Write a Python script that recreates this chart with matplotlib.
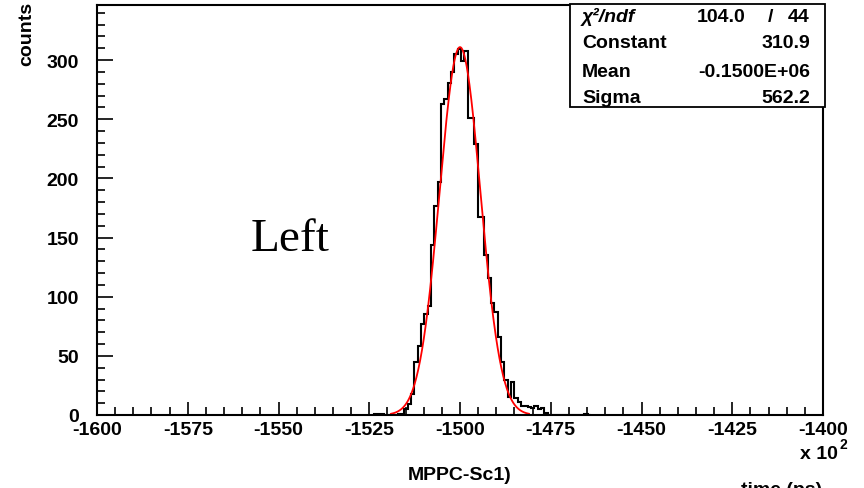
import matplotlib
matplotlib.use("Agg")
import matplotlib.pyplot as plt
from matplotlib.patches import Rectangle
from matplotlib.ticker import MultipleLocator, FuncFormatter
import numpy as np

W, H = 864, 489

# histogram (time in units of 10^2 ps)
bin_start = -1523.6
bin_width = 0.918
counts = [1, 1, 1, 0, 0, 0, 0, 1, 1, 5, 9, 18, 45, 58, 77, 85, 92, 144, 177, 197,
          263, 267, 281, 290, 305, 309, 299, 308, 251, 251, 229, 167, 167, 135, 116,
          95, 87, 66, 45, 30, 15, 28, 14, 11, 8, 8, 7, 6, 8, 5, 6, 2,
          0, 0, 0, 0, 0, 0, 0, 0, 0, 0, 0, 1, 0]

# gaussian fit
fit_const = 310.9
fit_mean = -1500.0   # -0.1500E+06 ps
fit_sigma = 5.622    # 562.2 ps
fit_range = (-1519, -1481)

stat_names = ["χ²/ndf", "Constant", "Mean", "Sigma"]
stat_values = ["44", "310.9", "-0.1500E+06", "562.2"]
chi2 = "104.0"

xticks = [-1600, -1575, -1550, -1525, -1500, -1475, -1450, -1425, -1400]
yticks = [0, 50, 100, 150, 200, 250, 300]

plt.rcParams["font.family"] = ["Liberation Sans", "DejaVu Sans"]
plt.rcParams["axes.unicode_minus"] = False


def fx(x):
    return x / W


def fy(y):
    return 1 - y / H


fig = plt.figure(figsize=(W / 100, H / 100), dpi=100)
ax = fig.add_axes([fx(97), fy(416), fx(823) - fx(97), fy(6) - fy(416)])

edges = bin_start + bin_width * np.arange(len(counts) + 1)
ax.stairs(counts, edges, color="black", lw=1.5, baseline=0)

xf = np.linspace(fit_range[0], fit_range[1], 300)
yf = fit_const * np.exp(-0.5 * ((xf - fit_mean) / fit_sigma) ** 2)
ax.plot(xf, yf, color="red", lw=1.3)

ax.set_xlim(-1600, -1400)
ax.set_ylim(0, 346.5)
ax.set_xticks(xticks)
ax.set_yticks(yticks)
ax.xaxis.set_minor_locator(MultipleLocator(5))
ax.yaxis.set_minor_locator(MultipleLocator(10))
ax.xaxis.set_major_formatter(FuncFormatter(lambda v, p: f"{v:.0f}"))
ax.tick_params(which="both", direction="in", top=False, right=False, width=1.2)
ax.tick_params(axis="x", which="major", length=9.5, pad=4.5)
ax.tick_params(axis="y", which="major", length=11.5, pad=13)
ax.tick_params(which="minor", length=5.8)
for lab in ax.get_xticklabels() + ax.get_yticklabels():
    lab.set_fontweight("bold")
    lab.set_fontsize(14)
for s in ax.spines.values():
    s.set_linewidth(1.5)

fs = 14
fig.text(fx(27), fy(34), "counts", rotation=90, ha="center", va="center",
         fontsize=fs, fontweight="bold")
fig.text(fx(460), fy(476), "MPPC-Sc1)", ha="center", va="center",
         fontsize=fs, fontweight="bold")
fig.text(fx(838), fy(455), "x 10", ha="right", va="center",
         fontsize=fs, fontweight="bold")
fig.text(fx(840), fy(445), "2", ha="left", va="center",
         fontsize=10, fontweight="bold")
fig.text(fx(782), fy(482), "time (ps)", ha="center", va="top",
         fontsize=fs, fontweight="bold")
fig.text(fx(290), fy(240), "Left", ha="center", va="center",
         fontsize=34, family="Liberation Serif")

# stats box
fig.add_artist(Rectangle((fx(570), fy(108)), fx(825) - fx(570), fy(5) - fy(108),
                         transform=fig.transFigure, facecolor="white",
                         edgecolor="black", lw=1.3, zorder=5))
baselines = [22, 48, 77, 103]
for name, val, yb in zip(stat_names, stat_values, baselines):
    style = "italic" if name.startswith("χ") else "normal"
    fig.text(fx(582), fy(yb), name, ha="left", va="baseline", fontsize=fs,
             fontweight="bold", style=style, zorder=6)
    fig.text(fx(810), fy(yb), val, ha="right", va="baseline", fontsize=fs,
             fontweight="bold", zorder=6)
fig.text(fx(745), fy(baselines[0]), chi2, ha="right", va="baseline", fontsize=fs,
         fontweight="bold", zorder=6)
fig.text(fx(770), fy(baselines[0]), "/", ha="center", va="baseline", fontsize=fs,
         fontweight="bold", zorder=6)

fig.savefig("out.png", dpi=100)
